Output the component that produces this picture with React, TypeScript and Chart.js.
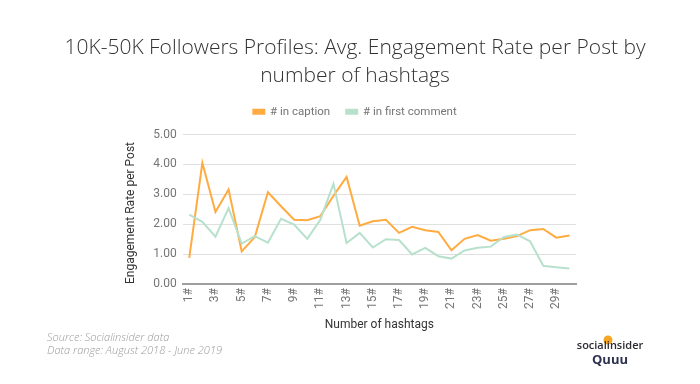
import React, { useEffect, useRef } from 'react';
import { Chart, registerables } from 'chart.js';

Chart.register(...registerables);

const categories = ['1#', '2#', '3#', '4#', '5#', '6#', '7#', '8#', '9#', '10#', '11#', '12#', '13#', '14#', '15#', '16#', '17#', '18#', '19#', '20#', '21#', '22#', '23#', '24#', '25#', '26#', '27#', '28#', '29#', '30#'];
const captionValues = [0.87, 4.05, 2.41, 3.16, 1.09, 1.57, 3.07, 2.6, 2.15, 2.13, 2.27, 2.95, 3.58, 1.95, 2.1, 2.15, 1.71, 1.91, 1.8, 1.74, 1.13, 1.51, 1.64, 1.45, 1.51, 1.6, 1.8, 1.84, 1.55, 1.62];
const firstCommentValues = [2.32, 2.08, 1.58, 2.54, 1.35, 1.6, 1.38, 2.18, 1.99, 1.51, 2.15, 3.35, 1.37, 1.71, 1.22, 1.5, 1.47, 0.99, 1.21, 0.93, 0.85, 1.12, 1.21, 1.25, 1.57, 1.65, 1.43, 0.61, 0.56, 0.52];
const seriesNames = ['# in caption', '# in first comment'];
const titleLines = ['10K-50K Followers Profiles: Avg. Engagement Rate per Post by', 'number of hashtags'];
const yAxisTitle = 'Engagement Rate per Post';
const xAxisTitle = 'Number of hashtags';
const footerLines = ['Source: Socialinsider data', 'Data range: August 2018 - June 2019'];
const yMin = 0;
const yMax = 5;
const yStep = 1;

const footerPlugin = {
  id: 'footerPlugin',
  afterDraw(chart: any) {
    const ctx = chart.ctx;
    ctx.save();
    ctx.fillStyle = '#9a9a9a';
    ctx.font = 'italic 300 11px "Open Sans", sans-serif';
    ctx.textAlign = 'left';
    ctx.textBaseline = 'middle';
    ctx.fillText(footerLines[0], 47, 338);
    ctx.fillText(footerLines[1], 47, 351);
    ctx.fillStyle = '#f5a623';
    ctx.beginPath();
    ctx.arc(608, 340, 4.5, 0, Math.PI * 2);
    ctx.fill();
    ctx.fillStyle = '#2b2b33';
    ctx.font = '600 11px "Open Sans", sans-serif';
    ctx.textAlign = 'center';
    ctx.fillText('socialinsider', 610, 346);
    ctx.fillStyle = '#2d3250';
    ctx.font = 'bold 13px "Open Sans", sans-serif';
    ctx.fillText('Quuu', 610, 360);
    ctx.restore();
  },
};

export default function App() {
  const ref = useRef<HTMLCanvasElement | null>(null);
  useEffect(() => {
    document.body.style.margin = '0';
    const canvas = ref.current;
    if (!canvas) return;
    const chart = new Chart(canvas, {
      type: 'line',
      data: {
        labels: categories,
        datasets: [
          {
            label: seriesNames[0],
            data: captionValues,
            xAxisID: 'x',
            yAxisID: 'y',
            borderColor: '#ffab40',
            backgroundColor: '#ffab40',
            borderWidth: 2,
            pointRadius: 0,
            tension: 0,
            order: 1,
          },
          {
            label: seriesNames[1],
            data: firstCommentValues,
            xAxisID: 'x',
            yAxisID: 'y',
            borderColor: '#b7e1cd',
            backgroundColor: '#b7e1cd',
            borderWidth: 2,
            pointRadius: 0,
            tension: 0,
            order: 0,
          },
        ],
      },
      options: {
        responsive: false,
        animation: false,
        layout: { padding: { left: 10, right: 0, top: 0, bottom: 48 } },
        plugins: {
          title: {
            display: true,
            text: titleLines,
            color: '#333333',
            font: { family: '"Open Sans", sans-serif', size: 21, weight: '300', lineHeight: 28 / 21 },
            padding: { top: 34, bottom: 0 },
          },
          legend: {
            display: true,
            position: 'top',
            labels: {
              boxWidth: 11,
              boxHeight: 4,
              padding: 16,
              color: '#757575',
              font: { family: 'Roboto, sans-serif', size: 11.5 },
              sort: (a: any, b: any) => a.datasetIndex - b.datasetIndex,
            },
          },
          tooltip: { enabled: false },
        },
        scales: {
          spacer: {
            type: 'category',
            position: 'top',
            display: true,
            grid: { display: false },
            border: { display: false },
            ticks: { display: false },
            afterFit: (s: any) => {
              s.height = 7;
            },
          },
          rspace: {
            type: 'linear',
            position: 'right',
            display: true,
            grid: { display: false },
            border: { display: false },
            ticks: { display: false },
            afterFit: (s: any) => {
              s.width = 124;
            },
          },
          x: {
            type: 'category',
            offset: true,
            grid: { display: false, drawTicks: false, offset: true },
            border: { display: true, color: '#9e9e9e', width: 2 },
            ticks: {
              autoSkip: false,
              maxRotation: 90,
              minRotation: 90,
              padding: 4,
              color: '#757575',
              font: { family: 'Roboto, sans-serif', size: 12 },
              callback: (_v: any, i: number) => (i % 2 === 0 ? categories[i] : ''),
            },
            title: {
              display: true,
              text: xAxisTitle,
              color: '#333333',
              font: { family: 'Roboto, sans-serif', size: 12 },
              padding: { top: 4, bottom: 4 },
            },
            afterFit: (s: any) => {
              s.height = 52;
            },
          },
          y: {
            type: 'linear',
            min: yMin,
            max: yMax,
            grid: { color: '#e0e0e0', lineWidth: 1, drawTicks: false },
            border: { display: false },
            ticks: {
              stepSize: yStep,
              padding: 6,
              color: '#757575',
              font: { family: 'Roboto, sans-serif', size: 12 },
              callback: (v: any) => Number(v).toFixed(2),
            },
            title: {
              display: true,
              text: yAxisTitle,
              align: 'start',
              color: '#333333',
              font: { family: 'Roboto, sans-serif', size: 12 },
              padding: { top: 114, bottom: 4 },
            },
            afterFit: (s: any) => {
              s.width = 172.7;
            },
          },
        },
      } as any,
      plugins: [footerPlugin],
    });
    return () => chart.destroy();
  }, []);
  return (
    <div style={{ position: 'fixed', left: 0, top: 0, width: 700, height: 384, background: '#fff' }}>
      <canvas ref={ref} width={700} height={384} />
    </div>
  );
}
